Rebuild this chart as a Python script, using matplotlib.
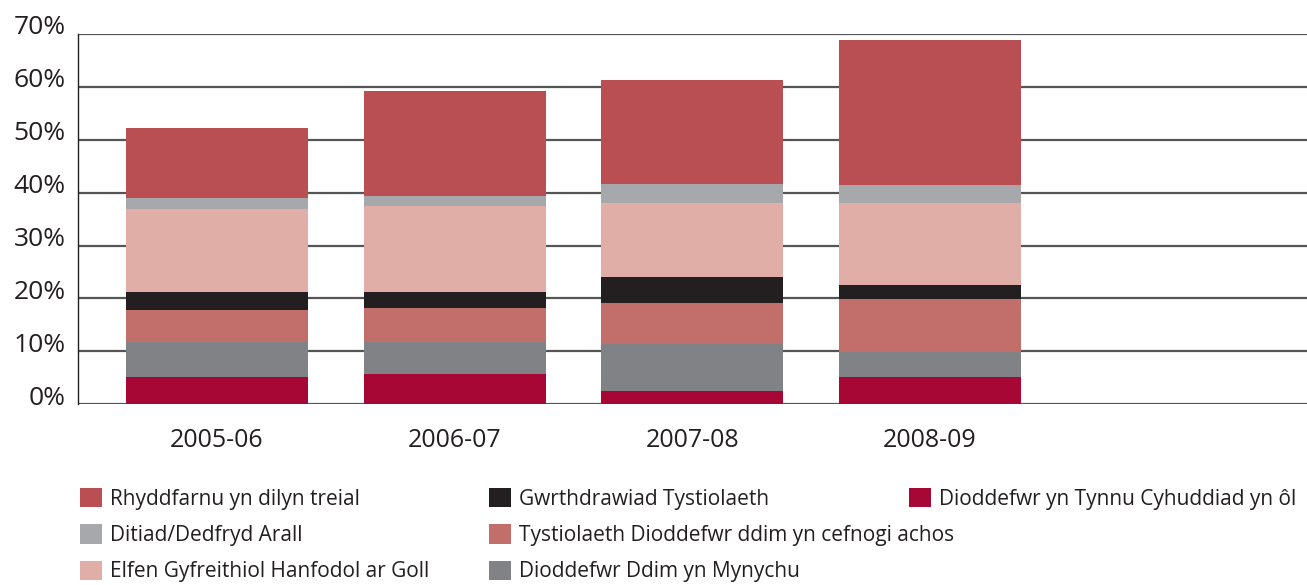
import numpy as np
import matplotlib.pyplot as plt
from matplotlib.patches import Patch
from matplotlib.transforms import ScaledTranslation

plt.rcParams['font.family'] = ['Open Sans', 'DejaVu Sans']

# data (percent of cases)
years = ['2005-06', '2006-07', '2007-08', '2008-09']
withdrew = [5.2, 5.7, 2.5, 5.2]          # Dioddefwr yn Tynnu Cyhuddiad yn ôl
no_show = [6.5, 6.0, 8.8, 4.7]           # Dioddefwr Ddim yn Mynychu
no_support = [6.1, 6.5, 7.9, 9.9]        # Tystiolaeth Dioddefwr ddim yn cefnogi achos
conflict = [3.4, 3.0, 4.8, 2.8]          # Gwrthdrawiad Tystiolaeth
missing = [15.8, 16.2, 14.0, 15.4]       # Elfen Gyfreithiol Hanfodol ar Goll
other = [1.9, 1.9, 3.6, 3.4]             # Ditiad/Dedfryd Arall
acquitted = [13.4, 20.0, 19.6, 27.4]     # Rhyddfarnu yn dilyn treial

series = [
    ('Dioddefwr yn Tynnu Cyhuddiad yn ôl', withdrew, '#A60734'),
    ('Dioddefwr Ddim yn Mynychu', no_show, '#818286'),
    ('Tystiolaeth Dioddefwr ddim yn cefnogi achos', no_support, '#C26E6A'),
    ('Gwrthdrawiad Tystiolaeth', conflict, '#231F20'),
    ('Elfen Gyfreithiol Hanfodol ar Goll', missing, '#E0AEA7'),
    ('Ditiad/Dedfryd Arall', other, '#A7A8AB'),
    ('Rhyddfarnu yn dilyn treial', acquitted, '#B94E53'),
]

fig = plt.figure(figsize=(13.07, 5.85), dpi=100)
ax = fig.add_axes([0.0597, 0.309, 0.9403, 0.633])

x = np.arange(len(years))
bottom = np.zeros(len(years))
for name, vals, col in series:
    ax.bar(x, vals, 0.766, bottom=bottom, color=col, zorder=3)
    bottom += np.array(vals)

ax.set_xlim(-0.585, 4.587)
ax.set_ylim(0, 70)
ax.set_yticks(range(0, 71, 10))
ax.set_yticklabels([f'{v}%' for v in range(0, 71, 10)])
ax.set_xticks(x)
ax.set_xticklabels(years)
ax.tick_params(axis='y', length=0, pad=9, labelsize=19, labelcolor='#231F20')
ax.tick_params(axis='x', length=0, pad=17, labelsize=18, labelcolor='#231F20')
# y labels sit a little above their gridlines in the original
shift = ScaledTranslation(0, 9 / 100, fig.dpi_scale_trans)
for lab in ax.get_yticklabels():
    lab.set_transform(lab.get_transform() + shift)
ax.grid(axis='y', color='#555555', linewidth=1.6, zorder=1)
for s in ['top', 'right', 'bottom']:
    ax.spines[s].set_visible(False)
ax.spines['left'].set_color('#231F20')
ax.spines['left'].set_linewidth(1.0)

lookup = {n: c for n, _, c in series}
columns = [
    (['Rhyddfarnu yn dilyn treial', 'Ditiad/Dedfryd Arall', 'Elfen Gyfreithiol Hanfodol ar Goll'], 80),
    (['Gwrthdrawiad Tystiolaeth', 'Tystiolaeth Dioddefwr ddim yn cefnogi achos', 'Dioddefwr Ddim yn Mynychu'], 489),
    (['Dioddefwr yn Tynnu Cyhuddiad yn ôl'], 909),
]
for names, px in columns:
    handles = [Patch(facecolor=lookup[n], edgecolor='none') for n in names]
    leg = fig.legend(handles, names, loc='upper left',
                     bbox_to_anchor=(px / 1307, 1 - 488 / 585),
                     frameon=False, fontsize=15, borderpad=0, borderaxespad=0,
                     handlelength=1.05, handleheight=1.05, handletextpad=0.4,
                     labelspacing=0.7)
    for t in leg.get_texts():
        t.set_color('#231F20')

fig.savefig('out.png', dpi=100)
